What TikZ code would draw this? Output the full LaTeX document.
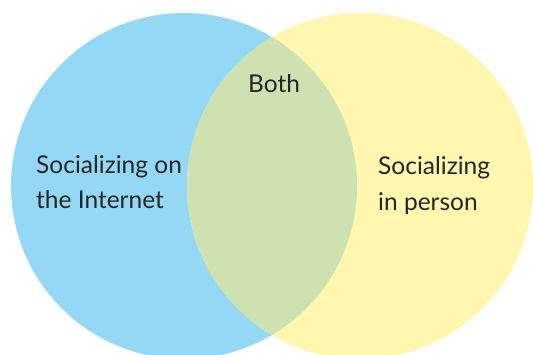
\documentclass[tikz,border=0pt]{standalone}
\usepackage{fontspec}
\setmainfont{Lato}
\definecolor{netblue}{RGB}{148,216,246}
\definecolor{personyellow}{RGB}{255,247,175}
\definecolor{bothgreen}{RGB}{206,226,177}
\definecolor{labelgray}{RGB}{34,38,36}
\begin{document}
\begin{tikzpicture}[x=1pt,y=-1pt,
    label text/.style={text=labelgray,inner sep=0pt,align=left,
      font=\fontsize{24.5}{35.5}\selectfont}]
  \useasboundingbox (0,0) rectangle (533,355);
  \clip (0,0) rectangle (533,355);
  \fill[netblue] (184,186) circle[radius=173];
  \fill[personyellow] (360,186) circle[radius=173];
  \begin{scope}
    \clip (184,186) circle[radius=173];
    \fill[bothgreen] (360,186) circle[radius=173];
  \end{scope}
  \node[label text,anchor=base west] (net) at (36,209) {Socializing on\\the Internet};
  \node[label text,anchor=base west] (person) at (378,210.5) {Socializing\\in person};
  \node[label text,anchor=base west] (both) at (248,92.5) {Both};
\end{tikzpicture}
\end{document}
